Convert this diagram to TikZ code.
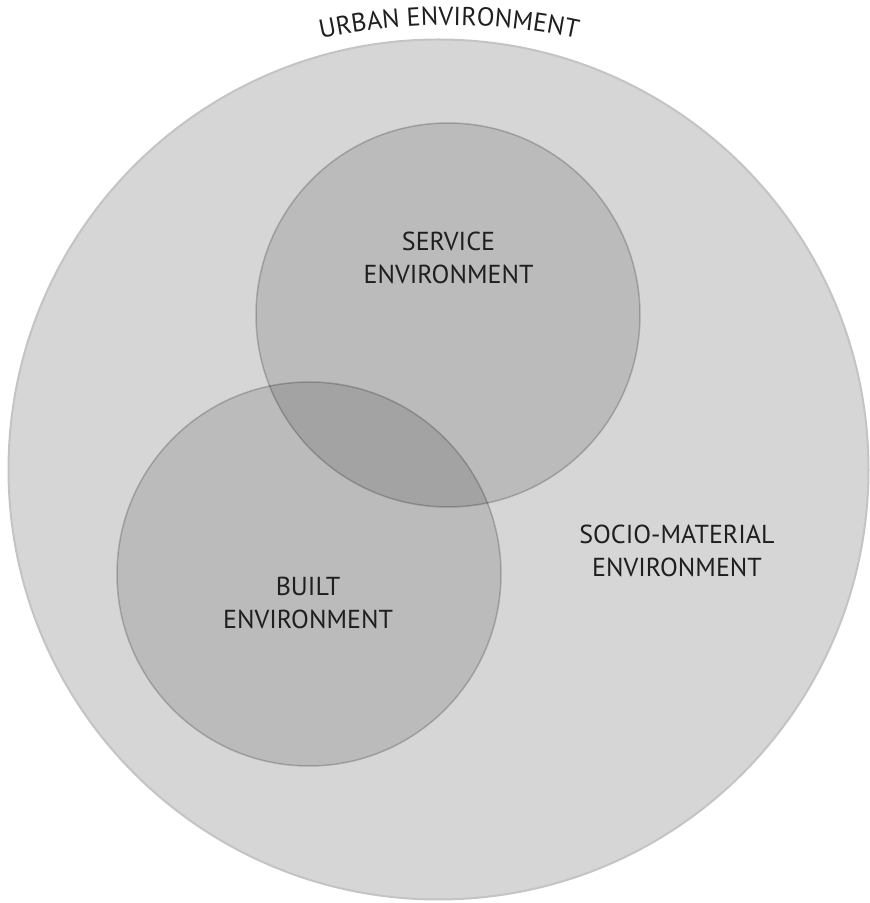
\documentclass[tikz,border=0pt]{standalone}
\usepackage{fontspec}
\setmainfont{PT Sans}
\usetikzlibrary{decorations.text}

\tikzset{
    envlabel/.style={align=center, text=black!88, font=\fontsize{26}{33}\selectfont},
    subenv/.style={fill=black, fill opacity=0.125, draw=black, draw opacity=0.2, line width=1.5pt},
}

\begin{document}
\begin{tikzpicture}[x=1pt, y=1pt]
    \useasboundingbox (0,0) rectangle (870,903);

    % outer circle
    \draw[fill={rgb,255:red,214;green,214;blue,214}, draw={rgb,255:red,196;green,196;blue,196}, line width=2pt] (438.5,433.5) circle (430);

    % inner circles
    \draw[subenv] (448,588) circle (192);
    \draw[subenv] (309,329) circle (192);

    % labels
    \node[envlabel] (service) at (448.5,645.5) {SERVICE\\ENVIRONMENT};
    \node[envlabel] (built) at (308,300) {BUILT\\ENVIRONMENT};
    \node[envlabel] (socio) at (677,352.5) {SOCIO-MATERIAL\\ENVIRONMENT};

    % curved title
    \path[decorate, decoration={text along path, text align=center,
        text={|\fontsize{26}{30}\selectfont\color{black!88}|URBAN ENVIRONMENT}}]
        (449,276) ++(114:602) arc (114:66:602);
\end{tikzpicture}
\end{document}
